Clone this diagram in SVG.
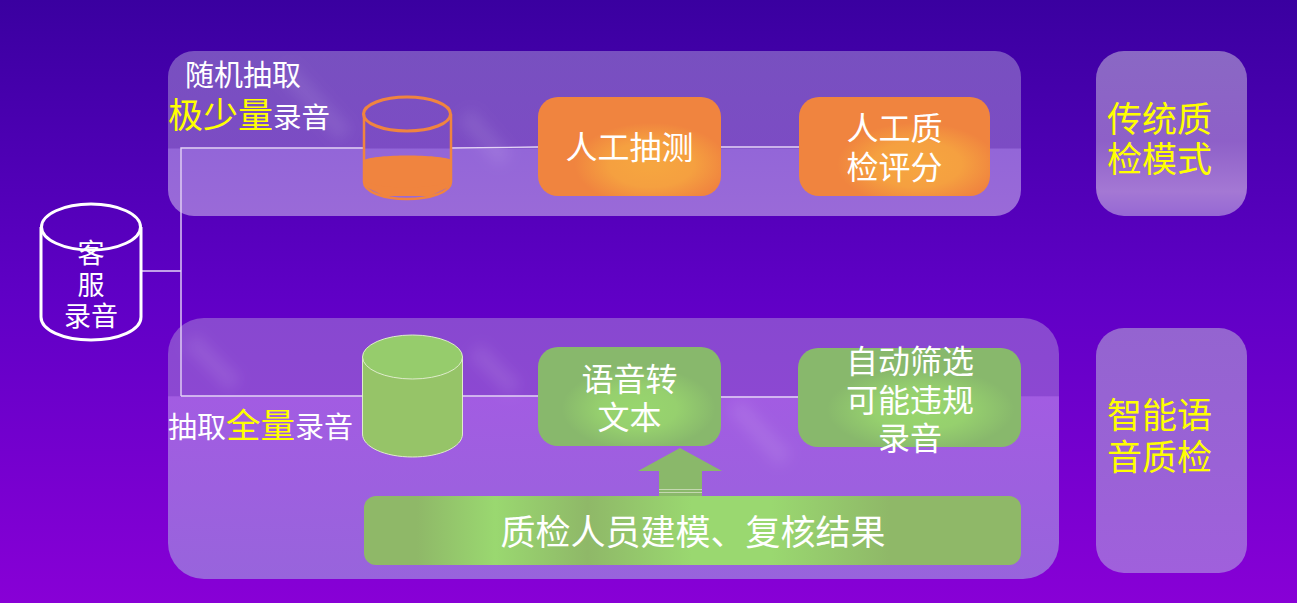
<svg xmlns="http://www.w3.org/2000/svg" width="1297" height="603" viewBox="0 0 1297 603">
<style>
text{font-family:"Noto Sans CJK SC","Liberation Sans",sans-serif;fill:#fff;text-anchor:middle}
.s{text-anchor:start}
.y{fill:#ff0}
.conn{fill:none;stroke:#e4d4f6;stroke-width:1.4}
.streak{fill:none;stroke:#fff;stroke-opacity:.09;stroke-width:18;filter:url(#soft)}
</style>
<defs>
<filter id="soft" x="-50%" y="-50%" width="200%" height="200%"><feGaussianBlur stdDeviation="7"/></filter>
<linearGradient id="bg" x1="0" y1="0" x2="0" y2="1"><stop offset="0" stop-color="#3a00a0"/><stop offset=".5" stop-color="#6000c6"/><stop offset="1" stop-color="#8800d6"/></linearGradient>
<linearGradient id="p1" x1="0" y1="0" x2="0" y2="1"><stop offset="0" stop-color="#7850c0"/><stop offset=".588" stop-color="#7c4cc4"/><stop offset=".594" stop-color="#9366d8"/><stop offset="1" stop-color="#9a6ad8"/></linearGradient>
<linearGradient id="p2" x1="0" y1="0" x2="0" y2="1"><stop offset="0" stop-color="#8848d0"/><stop offset=".298" stop-color="#8c48d2"/><stop offset=".302" stop-color="#a25ce2"/><stop offset="1" stop-color="#9864dc"/></linearGradient>
<linearGradient id="p3" x1="0" y1="0" x2="0" y2="1"><stop offset="0" stop-color="#8a68c4"/><stop offset=".55" stop-color="#8e60c8"/><stop offset=".85" stop-color="#a478d4"/><stop offset="1" stop-color="#9668d4"/></linearGradient>
<linearGradient id="p4" x1="0" y1="0" x2="0" y2="1"><stop offset="0" stop-color="#9464d0"/><stop offset=".55" stop-color="#9a62d6"/><stop offset="1" stop-color="#a060dc"/></linearGradient>
<radialGradient id="sheenO" cx=".62" cy=".68" r=".42"><stop offset="0" stop-color="#f6a640"/><stop offset=".55" stop-color="#f5a040"/><stop offset="1" stop-color="#f0843f"/></radialGradient>
<radialGradient id="sheenG" cx=".55" cy=".62" r=".42"><stop offset="0" stop-color="#98d66e"/><stop offset=".5" stop-color="#96d06e"/><stop offset="1" stop-color="#88b86c"/></radialGradient>
<linearGradient id="sheenB" gradientUnits="userSpaceOnUse" x1="364" y1="0" x2="1021" y2="0"><stop offset=".08" stop-color="#8fb868"/><stop offset=".2" stop-color="#9ad870"/><stop offset=".34" stop-color="#8fb868"/><stop offset=".5" stop-color="#9ad870"/><stop offset=".62" stop-color="#9ad870"/><stop offset=".8" stop-color="#8fb868"/></linearGradient>
</defs>
<rect width="1297" height="603" fill="url(#bg)"/>
<g id="panel-top"><rect fill="url(#p1)" x="168" y="51" width="853" height="165" rx="26"/></g>
<g id="panel-bottom"><rect fill="url(#p2)" x="168" y="318" width="891" height="261" rx="36"/></g>
<path class="streak" d="M285 70L345 135M465 115L505 160M190 340L235 385M475 350L515 390M735 405L785 460"/>
<g id="connectors">
<path class="conn" d="M141 271H181M181 396V148H364M452 148L538 147M721 147H799M181 396H363M463 396H538M721 397H798"/>
</g>
<g id="source">
<path d="M41 227V317C41 330 63 340 91 340S141 330 141 317V227" fill="none" stroke="#fff" stroke-width="3"/>
<ellipse cx="91" cy="227" rx="49.500" ry="23" fill="none" stroke="#fff" stroke-width="3"/>
<text x="91" y="263" font-size="27">客</text>
<text x="91" y="295" font-size="27">服</text>
<text x="91" y="326" font-size="27">录音</text>
</g>
<g id="label-sample">
<text class="s" x="185" y="86" font-size="29">随机抽取</text>
<text class="s" x="168" y="128" font-size="35"><tspan class="y">极少量</tspan><tspan font-size="28.500">录音</tspan></text>
</g>
<g id="db-orange">
<path d="M364 160C375 154 440 154 452 160V183C440 190 430 192 407 192S372 190 364 183Z" fill="#f0843f"/>
<path d="M364 180C372 190 440 190 451 180V186L430 196H384L364 186Z" fill="#f0843f"/>
<path d="M364 114V182C364 192 384 199 407 199S451 192 451 182V114" fill="none" stroke="#f0843f" stroke-width="2.500"/>
<ellipse cx="407" cy="114" rx="43.500" ry="17" fill="none" stroke="#f0843f" stroke-width="3"/>
</g>
<g id="manual-sample"><rect x="538" y="97" width="183" height="99" rx="20" fill="url(#sheenO)"/>
<text x="629.500" y="159" font-size="32">人工抽测</text></g>
<g id="manual-score"><rect x="799" y="97" width="191" height="99" rx="20" fill="url(#sheenO)"/>
<text x="894.500" y="140" font-size="32">人工质</text><text x="894.500" y="179" font-size="32">检评分</text></g>
<g id="mode-traditional"><rect fill="url(#p3)" x="1096" y="51" width="151" height="165" rx="28"/>
<text class="y" x="1159.500" y="132" font-size="35">传统质</text><text class="y" x="1159.500" y="172" font-size="35">检模式</text></g>
<g id="mode-smart"><rect fill="url(#p4)" x="1096" y="328" width="151" height="245" rx="28"/>
<text class="y" x="1159.500" y="428" font-size="35">智能语</text><text class="y" x="1159.500" y="470" font-size="35">音质检</text></g>
<g id="label-full">
<text class="s" x="168" y="438" font-size="29">抽取<tspan class="y" font-size="34.500">全量</tspan><tspan font-size="29">录音</tspan></text>
</g>
<g id="db-green">
<path d="M362.500 357V434C362.500 447 385 457 412.500 457S462.500 447 462.500 434V357Z" fill="#96c468" stroke="#dfeccc"/>
<ellipse cx="412.500" cy="357" rx="50" ry="22" fill="#96cc6c" stroke="#dfeccc"/>
</g>
<g id="speech-text"><rect x="538" y="347" width="183" height="99" rx="20" fill="url(#sheenG)"/>
<text x="629.500" y="391" font-size="32">语音转</text><text x="629.500" y="429" font-size="32">文本</text></g>
<g id="auto-filter"><rect x="798" y="348" width="223" height="99" rx="20" fill="url(#sheenG)"/>
<text x="910" y="373" font-size="32">自动筛选</text><text x="910" y="412" font-size="32">可能违规</text><text x="910" y="450" font-size="32">录音</text></g>
<g id="arrow-up"><path d="M680 448L722 471H702V496H659V471H638Z" fill="#8ab86a"/>
<path d="M659 489.500H702M659 492.500H702" stroke="#c4d8b0" stroke-width="1" fill="none"/></g>
<g id="modeling"><rect x="364" y="496" width="657" height="69" rx="12" fill="url(#sheenB)"/>
<text x="693" y="545" font-size="35">质检人员建模、复核结果</text></g>
</svg>
